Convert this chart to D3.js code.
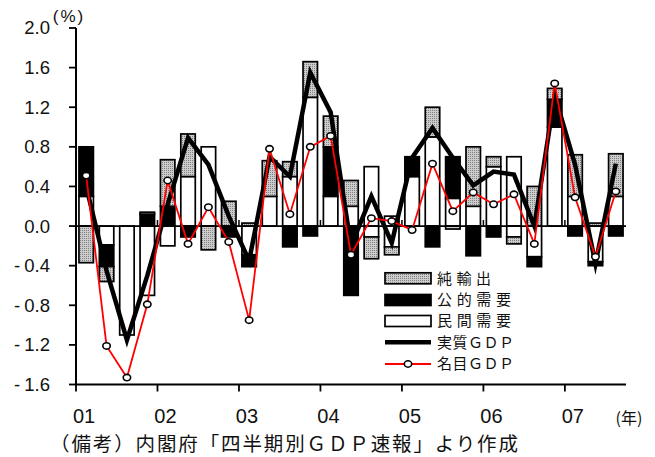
<!DOCTYPE html>
<html>
<head>
<meta charset="utf-8">
<script src="https://cdn.jsdelivr.net/npm/d3@7"></script>
<style>
  body { margin: 0; background: #fff; }
  svg { display: block; }
</style>
</head>
<body>
<svg id="chart" width="655" height="457"></svg>
<script>
// Quarterly contributions to GDP growth (q/q, %), 2001Q1 - 2007Q3
const quarters = [
  "2001Q1","2001Q2","2001Q3","2001Q4",
  "2002Q1","2002Q2","2002Q3","2002Q4",
  "2003Q1","2003Q2","2003Q3","2003Q4",
  "2004Q1","2004Q2","2004Q3","2004Q4",
  "2005Q1","2005Q2","2005Q3","2005Q4",
  "2006Q1","2006Q2","2006Q3","2006Q4",
  "2007Q1","2007Q2","2007Q3"
];

// 民間需要: components pushing growth up / pulling it down (both drawn white)
const privateUp = [
  0.30, 0, 0, 0,
  0, 0.50, 0.80, 0,
  0, 0.30, 0.50, 1.30,
  0.30, 0.20, 0.60, 0.10,
  0.50, 0.90, 0.28, 0.20,
  0.60, 0.70, 0, 1.00,
  0.30, 0, 0.30
];
const privateDown = [
  0, -0.19, -1.10, -0.70,
  -0.20, 0, 0, 0,
  -0.29, 0, 0, 0,
  0, 0, -0.11, -0.21,
  0, 0, 0, 0,
  0, -0.11, -0.31, 0,
  0, -0.36, 0
];
// 公的需要
const publicDemand = [
  0.50, -0.22, 0, 0.12,
  0.20, -0.11, 0, -0.11,
  -0.12, 0, -0.21, -0.10,
  0.50, -0.70, 0, 0,
  0.20, -0.21, 0.42, -0.30,
  -0.11, 0, -0.10, 0.28,
  -0.10, -0.04, -0.10
];
// 純輸出
const netExports = [
  -0.37, -0.15, 0, 0.02,
  0.47, 0.43, -0.24, 0.25,
  0.03, 0.36, 0.15, 0.36,
  0.31, 0.26, -0.22, -0.08,
  0, 0.30, -0.03, 0.60,
  0.10, -0.07, 0.40, 0.11,
  0.42, 0.03, 0.43
];
// 実質GDP
const realGDP = [
  0.40, -0.45, -1.15, -0.50,
  0.22, 0.89, 0.62, 0.10,
  -0.35, 0.70, 0.50, 1.55,
  1.15, -0.20, 0.30, -0.17,
  0.69, 0.99, 0.69, 0.41,
  0.55, 0.52, 0.00, 1.32,
  0.62, -0.38, 0.63
];
// 名目GDP
const nominalGDP = [
  0.51, -1.21, -1.53, -0.79,
  0.46, -0.18, 0.19, -0.16,
  -0.95, 0.78, 0.12, 0.80,
  0.91, -0.29, 0.08, 0.05,
  -0.04, 0.63, 0.15, 0.34,
  0.22, 0.32, -0.18, 1.44,
  0.29, -0.31, 0.35
];

const yearLabels = ["01","02","03","04","05","06","07"];
const yTicks = [2.0, 1.6, 1.2, 0.8, 0.4, 0.0, -0.4, -0.8, -1.2, -1.6];

const NUM_FONT = "'Liberation Sans', Arial, sans-serif";
const JP_FONT = "'Noto Sans CJK JP', 'Noto Sans', sans-serif";

const svg = d3.select("#chart");

// dotted gray fill for net exports
const defs = svg.append("defs");
const pat = defs.append("pattern")
  .attr("id", "dots").attr("width", 2).attr("height", 2)
  .attr("patternUnits", "userSpaceOnUse");
pat.append("rect").attr("width", 2).attr("height", 2).attr("fill", "#cccccc");
pat.append("rect").attr("width", 1).attr("height", 1).attr("fill", "#808080");

const x = d3.scaleBand().domain(quarters).range([76, 626])
  .paddingInner(0.29).paddingOuter(0.145);
const y = d3.scaleLinear().domain([-1.6, 2.0]).range([384.5, 28]);
const bw = x.bandwidth();
const cx = q => x(q) + bw / 2;

// stacked bars: positives upward, negatives downward
const rows = quarters.map((q, i) => ({
  q,
  privateUp: privateUp[i],
  privateDown: privateDown[i],
  publicDemand: publicDemand[i],
  netExports: netExports[i]
}));
const keys = ["privateUp", "privateDown", "publicDemand", "netExports"];
const fills = { privateUp: "#fff", privateDown: "#fff", publicDemand: "#000", netExports: "url(#dots)" };
const stacked = d3.stack().keys(keys).offset(d3.stackOffsetDiverging)(rows);

const barG = svg.append("g");
stacked.forEach(series => {
  barG.append("g")
    .selectAll("rect")
    .data(series.filter(d => Math.abs(d[1] - d[0]) > 1e-9))
    .join("rect")
    .attr("x", d => x(d.data.q))
    .attr("width", bw)
    .attr("y", d => y(d[1]))
    .attr("height", d => y(d[0]) - y(d[1]))
    .attr("fill", fills[series.key])
    .attr("stroke", "#000")
    .attr("stroke-width", 1.7);
});

// zero line with year ticks
const step4 = x.step() * 4;
svg.append("line")
  .attr("x1", 76).attr("x2", 626).attr("y1", y(0)).attr("y2", y(0))
  .attr("stroke", "#000").attr("stroke-width", 1.8);
d3.range(1, 7).forEach(k => {
  svg.append("line")
    .attr("x1", 76 + k * step4).attr("x2", 76 + k * step4)
    .attr("y1", y(0)).attr("y2", y(0) - 6)
    .attr("stroke", "#000").attr("stroke-width", 1.5);
});

// real GDP
svg.append("path")
  .datum(realGDP)
  .attr("d", d3.line().x((d, i) => cx(quarters[i])).y(d => y(d)))
  .attr("fill", "none").attr("stroke", "#000").attr("stroke-width", 4.5)
  .attr("stroke-linejoin", "miter").attr("stroke-miterlimit", 10);

// nominal GDP
svg.append("path")
  .datum(nominalGDP)
  .attr("d", d3.line().x((d, i) => cx(quarters[i])).y(d => y(d)))
  .attr("fill", "none").attr("stroke", "#ff0000").attr("stroke-width", 1.8);
svg.append("g").selectAll("ellipse")
  .data(nominalGDP)
  .join("ellipse")
  .attr("cx", (d, i) => cx(quarters[i]))
  .attr("cy", d => y(d))
  .attr("rx", 3.7).attr("ry", 3.2)
  .attr("fill", "#fff").attr("stroke", "#000").attr("stroke-width", 1.6);

// y axis
svg.append("line")
  .attr("x1", 76).attr("x2", 76).attr("y1", y(2.0)).attr("y2", y(-1.6))
  .attr("stroke", "#000").attr("stroke-width", 2);
const fmt = d3.format(".1f");
yTicks.forEach(v => {
  svg.append("line")
    .attr("x1", 69).attr("x2", 76).attr("y1", y(v)).attr("y2", y(v))
    .attr("stroke", "#000").attr("stroke-width", 1.8);
  const t = svg.append("text")
    .attr("x", 50).attr("y", y(v)).attr("dy", "0.35em")
    .attr("text-anchor", "end")
    .attr("font-family", NUM_FONT).attr("font-size", 18.5).attr("fill", "#111");
  const s = fmt(v);
  if (v < 0) {
    t.append("tspan").text("-");
    t.append("tspan").attr("dx", 4).text(s.slice(1));
  } else {
    t.text(s);
  }
});
svg.append("text")
  .attr("x", 69).attr("y", 22).attr("text-anchor", "middle")
  .attr("font-family", NUM_FONT).attr("font-size", 17).attr("letter-spacing", 2)
  .attr("fill", "#111").text("(%)");

// bottom axis
svg.append("line")
  .attr("x1", 76).attr("x2", 626).attr("y1", 384.5).attr("y2", 384.5)
  .attr("stroke", "#000").attr("stroke-width", 2);
d3.range(0, 7).forEach(k => {
  svg.append("line")
    .attr("x1", 76 + k * step4).attr("x2", 76 + k * step4)
    .attr("y1", 384.5).attr("y2", 391.5)
    .attr("stroke", "#000").attr("stroke-width", 1.8);
});
yearLabels.forEach((lab, k) => {
  svg.append("text")
    .attr("x", 76 + k * step4 + 8).attr("y", 423)
    .attr("text-anchor", "middle")
    .attr("font-family", NUM_FONT).attr("font-size", 20).attr("fill", "#111")
    .text(lab);
});
svg.append("text")
  .attr("x", 629).attr("y", 424).attr("text-anchor", "middle")
  .attr("font-family", JP_FONT).attr("font-size", 16).attr("fill", "#111")
  .text("(年)");

// legend
const lg = svg.append("g");
const lx = 385, lw = 46, tx = 437;
const legendRows = [
  { label: "純輸出", cy: 278.3, kind: "rect", fill: "url(#dots)", len: 54 },
  { label: "公的需要", cy: 300, kind: "rect", fill: "#000", len: 74 },
  { label: "民間需要", cy: 321, kind: "rect", fill: "#fff", len: 74 },
  { label: "実質ＧＤＰ", cy: 342.3, kind: "real", len: 77 },
  { label: "名目ＧＤＰ", cy: 364, kind: "nominal", len: 77 }
];
legendRows.forEach(r => {
  if (r.kind === "rect") {
    lg.append("rect")
      .attr("x", lx).attr("y", r.cy - 5.5).attr("width", lw).attr("height", 11)
      .attr("fill", r.fill).attr("stroke", "#000").attr("stroke-width", 1.7);
  } else if (r.kind === "real") {
    lg.append("line")
      .attr("x1", lx).attr("x2", lx + lw).attr("y1", r.cy).attr("y2", r.cy)
      .attr("stroke", "#000").attr("stroke-width", 4.5);
  } else {
    lg.append("line")
      .attr("x1", lx).attr("x2", lx + lw).attr("y1", r.cy).attr("y2", r.cy)
      .attr("stroke", "#ff0000").attr("stroke-width", 1.8);
    lg.append("ellipse")
      .attr("cx", lx + lw / 2).attr("cy", r.cy).attr("rx", 3.7).attr("ry", 3.2)
      .attr("fill", "#fff").attr("stroke", "#000").attr("stroke-width", 1.6);
  }
  lg.append("text")
    .attr("x", tx).attr("y", r.cy).attr("dy", "0.36em")
    .attr("font-family", JP_FONT).attr("font-size", 15).attr("fill", "#111")
    .attr("textLength", r.len).attr("lengthAdjust", "spacing")
    .text(r.label);
});

// source note
svg.append("text")
  .attr("x", 50).attr("y", 450.5)
  .attr("font-family", JP_FONT).attr("font-size", 19.5).attr("fill", "#111")
  .attr("textLength", 468).attr("lengthAdjust", "spacing")
  .text("（備考）内閣府「四半期別ＧＤＰ速報」より作成");
</script>
</body>
</html>
